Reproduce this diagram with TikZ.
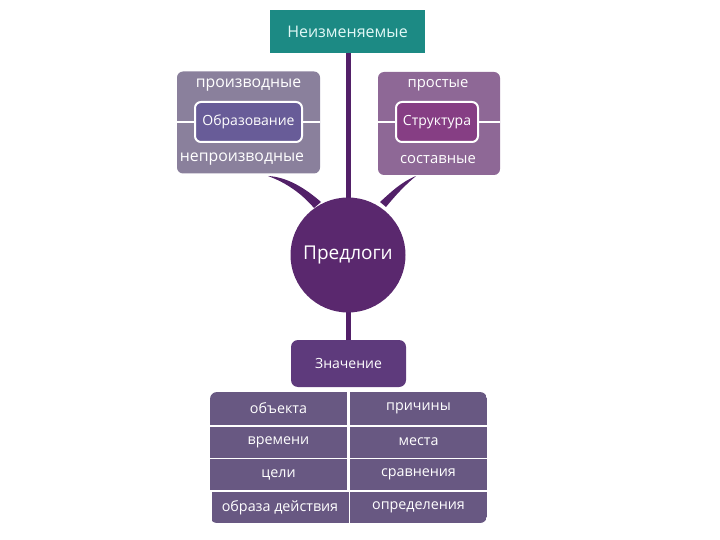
\documentclass[tikz,border=0pt]{standalone}
\usepackage{fontspec}
\setmainfont{Open Sans}
\definecolor{teal1}{RGB}{28,138,132}
\definecolor{toptext}{RGB}{225,248,246}
\definecolor{lbox}{RGB}{138,128,156}
\definecolor{linner}{RGB}{104,92,152}
\definecolor{rbox}{RGB}{142,104,150}
\definecolor{rinner}{RGB}{134,62,132}
\definecolor{circ}{RGB}{90,40,110}
\definecolor{conn}{RGB}{82,32,104}
\definecolor{znach}{RGB}{94,58,124}
\definecolor{gridc}{RGB}{104,88,130}
\tikzset{
  txt/.style={text=white, inner sep=0pt},
  outerbox/.style={rounded corners=6pt, inner sep=0pt},
  innerbox/.style={rounded corners=6pt, draw=white, line width=2pt, inner sep=0pt, text=white, font=\fontsize{14}{16}\selectfont},
  cell/.style={fill=gridc, inner sep=0pt, text=white, font=\fontsize{14.3}{16}\selectfont},
}
\begin{document}
\begin{tikzpicture}[x=1pt,y=-1pt]
\useasboundingbox (0,0) rectangle (720,540);
% connectors behind
\draw[conn, line width=5pt] (348,53) -- (348,200);
\draw[conn, line width=5pt] (348,310) -- (348,342);
\fill[conn] (268,176) .. controls (287,177) and (305,188) .. (321,202)
  -- (314,208) .. controls (302,194) and (287,183) .. (268,176) -- cycle;
\fill[conn] (416,176) .. controls (401,182) and (390,193) .. (380,202)
  -- (386,207) .. controls (395,196) and (404,186) .. (416,176) -- cycle;
% top box
\node[fill=teal1, minimum width=155pt, minimum height=43pt, inner sep=0pt, text=toptext, font=\fontsize{16}{18}\selectfont] (top) at (347.5,31.5) {Неизменяемые};
% left group
\node[fill=lbox, outerbox, minimum width=143pt, minimum height=102pt] (lb) at (248.5,122.5) {};
\draw[white, line width=2pt] (lb.west |- 0,122) -- (lb.east |- 0,122);
\node[fill=linner, innerbox, minimum width=107pt, minimum height=40pt] (li) at (248.5,122) {Образование};
\node[txt, font=\fontsize{15.8}{18}\selectfont] (lt) at (248.5,85) {производные};
\node[txt, font=\fontsize{15.8}{18}\selectfont] (lbt) at (242,159) {непроизводные};
% right group
\node[fill=rbox, outerbox, minimum width=122pt, minimum height=103pt] (rb) at (439,123.5) {};
\draw[white, line width=2pt] (rb.west |- 0,122) -- (rb.east |- 0,122);
\node[fill=rinner, innerbox, minimum width=82pt, minimum height=40pt] (ri) at (437,122) {Структура};
\node[txt, font=\fontsize{14.8}{17}\selectfont] (rt) at (438,85) {простые};
\node[txt, font=\fontsize{14.8}{17}\selectfont] (rbt) at (438,160) {составные};
% circle
\node[circle, fill=circ, minimum size=115pt, inner sep=0pt, text=white, font=\fontsize{19}{22}\selectfont] (pred) at (348,255) {Предлоги};
% znachenie
\node[fill=znach, rounded corners=7pt, minimum width=115pt, minimum height=47pt, inner sep=0pt, text=white, font=\fontsize{14}{16}\selectfont] (zn) at (348.5,363.5) {Значение};
% grid
\begin{scope}
\clip[rounded corners=7pt] (210,392) rectangle (487,523);
\node[cell, minimum width=137pt, minimum height=33pt] (c11) at (278.5,408.5) {объекта};
\node[cell, minimum width=137pt, minimum height=33pt] (c12) at (418.5,408.5) {причины};
\node[cell, minimum width=137pt, minimum height=31pt] (c21) at (278.5,442) {времени};
\node[cell, minimum width=137pt, minimum height=31pt] (c22) at (418.5,442) {места};
\node[cell, minimum width=137pt, minimum height=31pt] (c31) at (278.5,474.5) {цели};
\node[cell, minimum width=137pt, minimum height=31pt] (c32) at (418.5,474.5) {сравнения};
\node[cell, minimum width=137pt, minimum height=31pt] (c41) at (280,507.5) {образа действия};
\node[cell, minimum width=137pt, minimum height=31pt] (c42) at (418.5,507.5) {определения};
\end{scope}
\end{tikzpicture}
\end{document}
